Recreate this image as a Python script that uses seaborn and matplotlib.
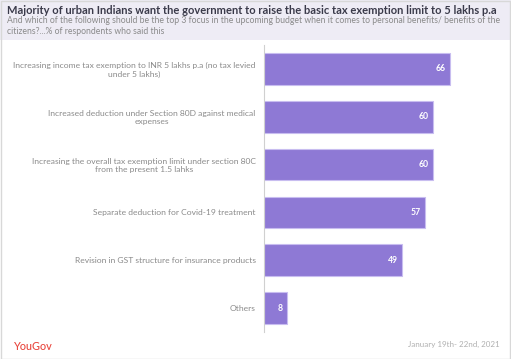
import matplotlib
matplotlib.use("Agg")
import matplotlib.pyplot as plt
from matplotlib.patches import Rectangle
import seaborn as sns
import pandas as pd

categories = [
    "Increasing income tax exemption to INR 5 lakhs p.a (no tax levied\nunder 5 lakhs)",
    "Increased deduction under Section 80D against medical\nexpenses",
    "Increasing the overall tax exemption limit under section 80C\nfrom the present 1.5 lahks",
    "Separate deduction for Covid-19 treatment",
    "Revision in GST structure for insurance products",
    "Others",
]
values = [66, 60, 60, 57, 49, 8]

title = "Majority of urban Indians want the government to raise the basic tax exemption limit to 5 lakhs p.a"
subtitle = ("And which of the following should be the top 3 focus in the upcoming budget when it comes to personal benefits/ benefits of the\n"
            "citizens?...% of respondents who said this")
footer_date = "January 19th- 22nd, 2021"

sns.set_style("white")
plt.rcParams['font.family'] = ['Lato', 'DejaVu Sans']

W, H = 511, 359
fig = plt.figure(figsize=(W / 100, H / 100), dpi=100)
fig.patch.set_facecolor("white")

# header band
fig.patches.append(Rectangle((0, 1 - 40 / H), 1, 40 / H, transform=fig.transFigure,
                             facecolor="#EEECF5", edgecolor="none", zorder=0))
# outer border
fig.patches.append(Rectangle((0.5 / W, 0.5 / H), 1 - 1.5 / W, 1 - 1.5 / H, transform=fig.transFigure,
                             facecolor="none", edgecolor="#D8D8D8", linewidth=1.0, zorder=5))

ax = fig.add_axes([264 / W, 1 - 332 / H, (509 - 264) / W, (332 - 45) / H])
df = pd.DataFrame({"cat": categories, "val": values})
sns.barplot(data=df, x="val", y="cat", orient="h", color="#8E79D5", saturation=1,
            width=0.66, edgecolor="#C8BDF0", linewidth=0.8, ax=ax)

ax.set_xlim(0, 87)
ax.set_ylim(5.5, -0.5)
ax.set_xlabel("")
ax.set_ylabel("")
ax.set_xticks([])
for s in ["top", "right", "bottom"]:
    ax.spines[s].set_visible(False)
ax.spines["left"].set_color("#D0D0D0")
ax.spines["left"].set_linewidth(0.8)
ax.tick_params(axis="y", length=0, pad=6, labelsize=6.1, labelcolor="#8A8A8A")
for lab in ax.get_yticklabels():
    lab.set_multialignment("center")

for i, v in enumerate(values):
    ax.text(v - 1.4, i, str(v), ha="right", va="center", color="white",
            fontsize=6.2, fontweight="bold")

fig.text(7 / W, 1 - 10 / H, title, ha="left", va="center", fontsize=8.0,
         fontweight="bold", color="#3A3A4A")
fig.text(7 / W, 1 - 26 / H, subtitle, ha="left", va="center", fontsize=6.2,
         color="#8A8A8A", linespacing=1.25)

fig.text(14 / W, 1 - 346 / H, "YouGov", ha="left", va="center", fontsize=7.8,
         color="#E8453C", fontweight="medium")
fig.text(500 / W, 1 - 344 / H, footer_date, ha="right", va="center", fontsize=5.8,
         color="#B0B0B0")

fig.savefig("out.png", dpi=100)
